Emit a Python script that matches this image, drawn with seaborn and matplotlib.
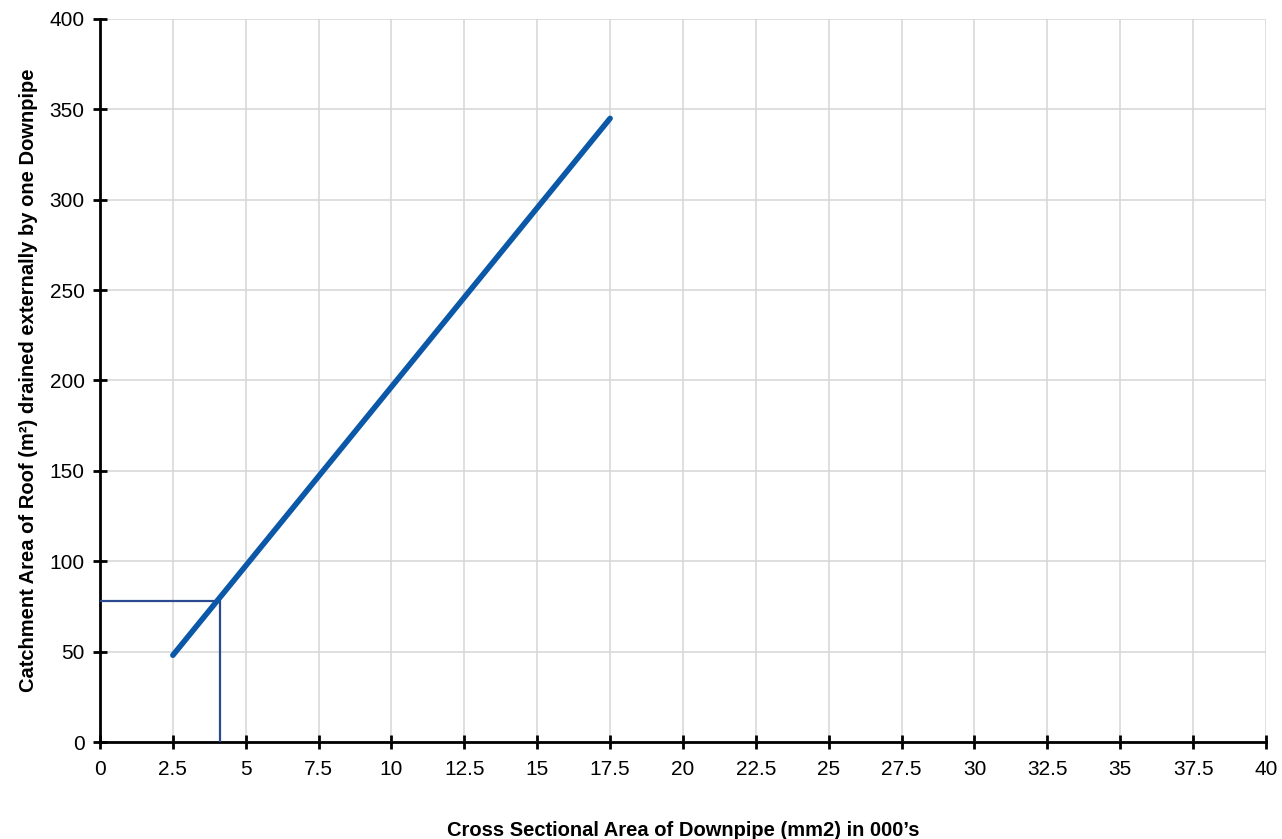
import matplotlib
matplotlib.use('Agg')
import matplotlib.pyplot as plt
import seaborn as sns
import pandas as pd

# Data
area_x = [2.5, 17.5]
catchment_y = [48, 345]
guide_x = 4.1
guide_y = 78
x_ticks = [0, 2.5, 5, 7.5, 10, 12.5, 15, 17.5, 20, 22.5, 25, 27.5, 30, 32.5, 35, 37.5, 40]
x_labels = ['0', '2.5', '5', '7.5', '10', '12.5', '15', '17.5', '20', '22.5', '25',
            '27.5', '30', '32.5', '35', '37.5', '40']
y_ticks = [0, 50, 100, 150, 200, 250, 300, 350, 400]

sns.set_style('white')
plt.rcParams['font.family'] = ['Liberation Sans', 'DejaVu Sans']
plt.rcParams['text.color'] = 'black'
plt.rcParams['xtick.color'] = 'black'
plt.rcParams['ytick.color'] = 'black'

df = pd.DataFrame({'x': area_x, 'y': catchment_y})

fig = plt.figure(figsize=(12.82, 8.39), dpi=100)
ax = fig.add_axes([0.078, 0.1156, 0.9095, 0.8618])

# guide lines
ax.plot([0, guide_x], [guide_y, guide_y], color='#2b4a90', lw=1.6, zorder=3)
ax.plot([guide_x, guide_x], [0, guide_y], color='#2b4a90', lw=1.6, zorder=3)

sns.lineplot(data=df, x='x', y='y', ax=ax, color='#0b57a8', lw=4, zorder=4)

ax.set_xlim(0, 40)
ax.set_ylim(0, 400)
ax.set_xticks(x_ticks)
ax.set_xticklabels(x_labels)
ax.set_yticks(y_ticks)
ax.grid(True, color='#d6d6d6', lw=1.1)
ax.set_axisbelow(True)

for s in ['top', 'right']:
    ax.spines[s].set_visible(False)
for s in ['left', 'bottom']:
    ax.spines[s].set_color('black')
    ax.spines[s].set_linewidth(2)

ax.tick_params(axis='both', direction='inout', length=10, width=2, color='black',
               labelcolor='black', labelsize=15, pad=6, bottom=True, left=True)
ax.tick_params(axis='x', pad=8)

label_font = dict(family=['Liberation Sans', 'DejaVu Sans'],
                  fontweight='bold', fontsize=14.5, color='black')
ax.set_xlabel('Cross Sectional Area of Downpipe (mm2) in 000\u2019s', labelpad=30, **label_font)
ax.set_ylabel('Catchment Area of Roof (m\u00b2) drained externally by one Downpipe',
              labelpad=8, **label_font)

fig.savefig('out.png', dpi=100, facecolor='white')
